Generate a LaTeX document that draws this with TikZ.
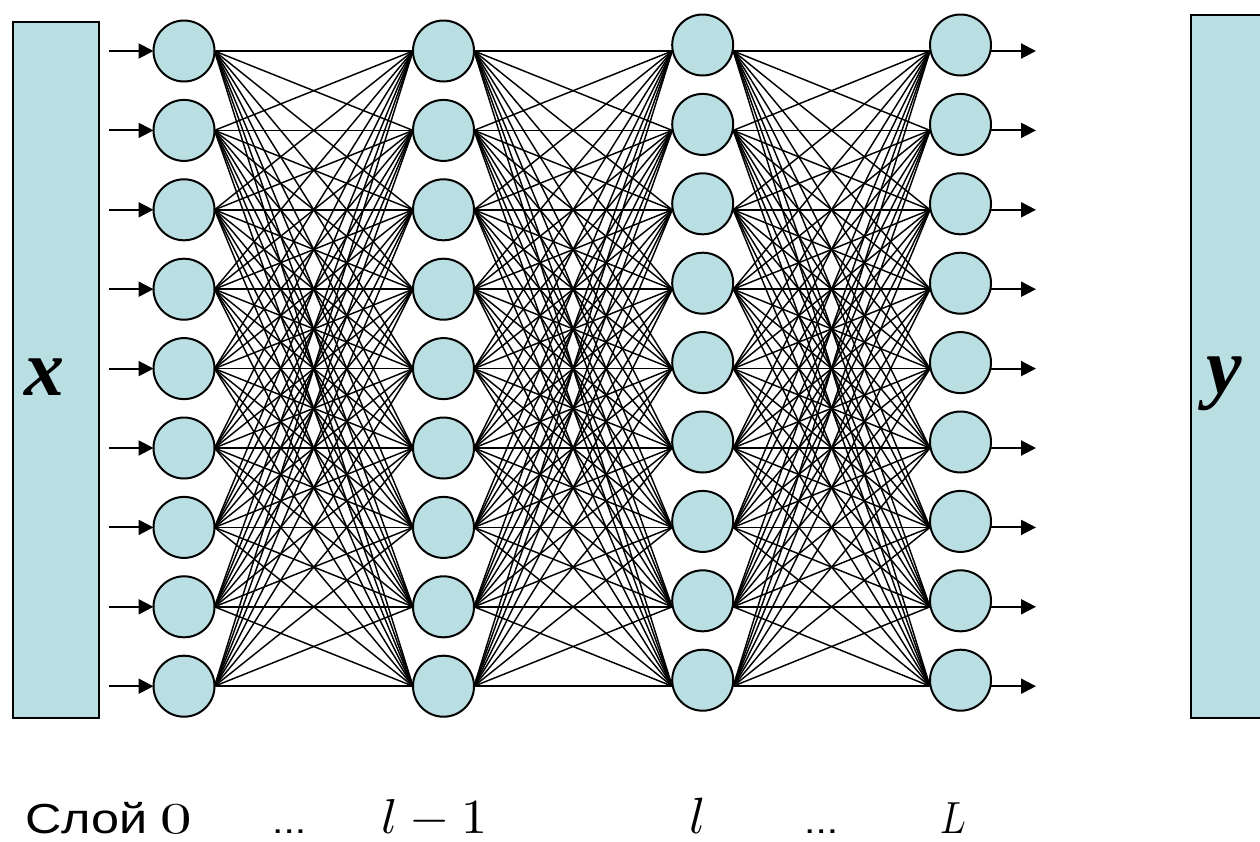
\documentclass[tikz,border=0pt]{standalone}
\usepackage{fontspec}
\usepackage{amsmath}
\usepackage{graphicx}
\usetikzlibrary{arrows.meta}
\newfontfamily\rufont[FakeStretch=1.2]{Liberation Sans}
\newfontfamily\seriff{Liberation Serif}
\definecolor{nfill}{RGB}{186,223,227}
\begin{document}
\begin{tikzpicture}[x=1pt,y=-1pt,
  neuron/.style={circle,draw,line width=2pt,fill=nfill,minimum size=61pt,inner sep=0pt},
  box/.style={draw,line width=2pt,fill=nfill,inner sep=0pt},
  link/.style={line width=1.45pt},
  io/.style={line width=2pt,-{Triangle[length=15pt,width=15pt]}},
  vec/.style={inner sep=0pt,font=\fontsize{80}{90}\selectfont\seriff\bfseries\itshape},
  lab/.style={anchor=base west,inner sep=0pt,font=\fontsize{42}{48}\selectfont},
  mlab/.style={anchor=base west,inner sep=0pt,font=\fontsize{10}{12}\selectfont}]
\useasboundingbox (0,0) rectangle (1260,841);
\clip (0,0) rectangle (1260,841);
% coordinates of line ends
\foreach \c/\cx in {0/184,1/443.5,2/702.7,3/960.5}{
  \foreach \k in {0,...,8}{
    \pgfmathsetmacro\ry{51+79.4*\k}
    \coordinate (L\c-\k) at (\cx-30.5,\ry);
    \coordinate (R\c-\k) at (\cx+30.5,\ry);
  }
}
\foreach \k in {0,...,8}{
  \pgfmathsetmacro\ry{51+79.4*\k}
  \coordinate (I\k) at (109,\ry);
  \coordinate (O\k) at (1036,\ry);
}
% boxes
\node[box,minimum width=85.7pt,minimum height=696pt,anchor=north west] (X) at (12,20.7) {};
\node[box,minimum width=100pt,minimum height=702.4pt,anchor=north west] (Y) at (1190,14.3) {};
\node[vec] (xt) at (44,377) {x};
\node[vec] (yt) at (1224,384) {y};
% connections
\foreach \c/\n in {0/1,1/2,2/3}{
  \foreach \i in {0,...,8}{
    \foreach \j in {0,...,8}{
      \draw[link] (R\c-\i) -- (L\n-\j);
    }
  }
}
% neurons
\foreach \c/\cx/\dy in {0/184/0,1/443.5/0,2/702.7/-6,3/960.5/-6}{
  \foreach \k in {0,...,8}{
    \pgfmathsetmacro\ry{51+79.4*\k+\dy}
    \node[neuron] (N\c-\k) at (\cx,\ry) {};
  }
}
% input / output arrows
\foreach \k in {0,...,8}{
  \draw[io] (I\k) -- (L0-\k);
  \draw[io] (R3-\k) -- (O\k);
}
% labels
\node[lab] (s0) at (25,833) {\rufont Слой};
\node[mlab] (z0) at (160,833) {\scalebox{6.3}[4.4]{$0$}};
\node[lab] (d1) at (272,833) {\rufont\fontsize{34}{40}\selectfont ...};
\node[mlab] (lm) at (381,833) {\scalebox{5.2}[4.9]{$l-1$}};
\node[mlab] (ll) at (689,833) {\scalebox{5.2}[5.1]{$l$}};
\node[lab] (d2) at (804,833) {\rufont\fontsize{34}{40}\selectfont ...};
\node[mlab] (LL) at (940,833) {\scalebox{3.8}[4.5]{$L$}};
\end{tikzpicture}
\end{document}
